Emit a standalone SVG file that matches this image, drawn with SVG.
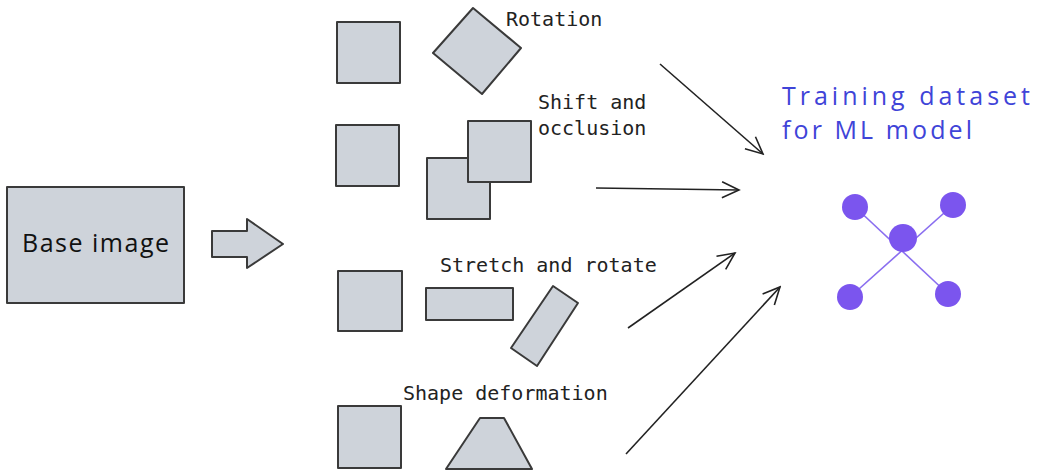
<svg xmlns="http://www.w3.org/2000/svg" width="1048" height="475" viewBox="0 0 1048 475">
<defs>
<style>
.shape{fill:#ced3da;stroke:#3a3a3a;stroke-width:2;stroke-linejoin:round}
.lbl{font-family:"DejaVu Sans Mono","Liberation Mono",monospace;font-size:20px;fill:#222}
.hand{font-family:"Open Sans","Liberation Sans",sans-serif}
.conn{stroke:#222;stroke-width:1.6;fill:none;marker-end:url(#ah)}
.node{fill:#7b55ee}
.edge{stroke:#8a6ef0;stroke-width:1.6}
</style>
<marker id="ah" viewBox="0 0 20 20" refX="18" refY="10" markerWidth="20" markerHeight="20" markerUnits="userSpaceOnUse" orient="auto">
<path d="M1,2 L18,10 L1,18" fill="none" stroke="#222" stroke-width="1.6"/>
</marker>
</defs>
<rect width="1048" height="475" fill="#fff"/>
<g id="base-image">
<rect class="shape" x="7" y="187" width="177" height="116"/>
<text class="hand" x="22" y="252" font-size="25" textLength="147" fill="#111">Base image</text>
</g>
<g id="block-arrow">
<path class="shape" d="M212,231 L247,231 L247,219 L283,244 L247,268 L247,257 L212,257 Z" stroke="#666" stroke-width="1.5"/>
</g>
<g id="rotation">
<rect class="shape" x="337" y="22" width="63" height="61"/>
<polygon class="shape" points="473,8 521,48 482,94 433,53"/>
<text class="lbl" x="506" y="26">Rotation</text>
</g>
<g id="shift-occlusion">
<rect class="shape" x="336" y="125" width="63" height="61"/>
<rect class="shape" x="427" y="158" width="63" height="61"/>
<rect class="shape" x="468" y="121" width="63" height="61"/>
<text class="lbl" x="538" y="109">Shift and</text>
<text class="lbl" x="538" y="135">occlusion</text>
</g>
<g id="stretch-rotate">
<rect class="shape" x="338" y="271" width="64" height="60"/>
<rect class="shape" x="426" y="288" width="87" height="32"/>
<polygon class="shape" points="553,286 578,303 537,366 511,348"/>
<text class="lbl" x="440" y="272">Stretch and rotate</text>
</g>
<g id="shape-deformation">
<rect class="shape" x="338" y="406" width="63" height="62"/>
<polygon class="shape" points="480,418 504,418 532,469 446,469" stroke="#777" stroke-width="1.5"/>
<text class="lbl" x="403" y="400">Shape deformation</text>
</g>
<g id="connectors">
<line class="conn" x1="660" y1="64" x2="763" y2="154"/>
<line class="conn" x1="596" y1="188" x2="739" y2="190"/>
<line class="conn" x1="628" y1="328" x2="735" y2="253"/>
<line class="conn" x1="626" y1="454" x2="780" y2="287"/>
</g>
<g id="ml-model">
<text class="hand" x="782" y="105" font-size="25" fill="#3f44d8" textLength="248">Training dataset</text>
<text class="hand" x="782" y="139" font-size="25" fill="#3f44d8" textLength="190">for ML model</text>
<line class="edge" x1="855" y1="207" x2="948" y2="294"/>
<line class="edge" x1="953" y1="205" x2="850" y2="297"/>
<circle class="node" cx="855" cy="207" r="13"/>
<circle class="node" cx="953" cy="205" r="13"/>
<circle class="node" cx="903" cy="238" r="14"/>
<circle class="node" cx="850" cy="297" r="13"/>
<circle class="node" cx="948" cy="294" r="13"/>
</g>
</svg>
